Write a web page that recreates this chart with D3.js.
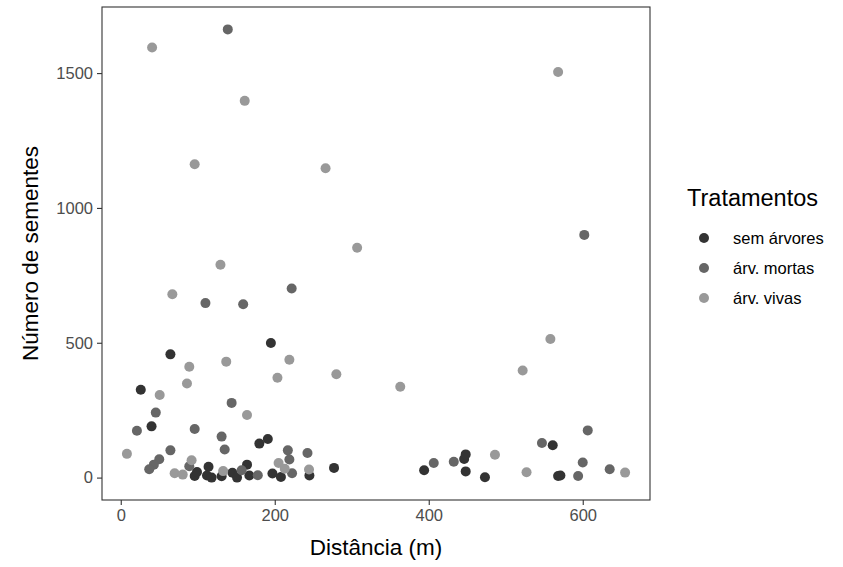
<!DOCTYPE html>
<html>
<head>
<meta charset="utf-8">
<script src="https://cdn.jsdelivr.net/npm/d3@7"></script>
<style>
  body { margin: 0; background: #fff; }
  text { font-family: "Liberation Sans", Arial, sans-serif; }
</style>
</head>
<body>
<svg id="chart" width="843" height="567"></svg>
<script>
// treatments and colours (grey scale)
var tratamentos = ["sem árvores", "árv. mortas", "árv. vivas"];
var cores = ["#333333", "#666666", "#999999"];

// [distância (m), número de sementes] per treatment
var semArvores = [
  [26, 326], [40, 190], [64.5, 457], [195, 499], [180, 126], [191, 143],
  [96, 6], [99, 21], [114, 40], [112, 8], [118, 0], [131, 5], [145, 18],
  [151, 0], [164, 48], [167, 8], [197, 15], [208, 2], [245, 8], [277, 36],
  [394, 27], [446, 69], [448, 86], [448, 23], [473, 1], [561, 120],
  [568, 6], [571, 8]
];
var arvMortas = [
  [139, 1662], [222, 701], [110, 647], [159, 643], [144, 277], [45.5, 241],
  [21, 174], [96, 180], [131, 152], [135, 104], [64.5, 101], [50, 68],
  [43, 48], [37, 31], [89, 42], [157, 27], [178, 9], [217, 101], [219, 67],
  [242.5, 91], [222.5, 16], [406.5, 54], [432.5, 59], [547, 128],
  [606.5, 175], [602, 900], [600, 56], [594, 6], [635, 31]
];
var arvVivas = [
  [40.7, 1595], [161, 1397], [96, 1162], [266, 1147], [307, 852],
  [129.5, 789], [67, 680], [89, 411], [137, 430], [219, 437], [203.5, 370],
  [280, 383], [363, 337], [50.6, 306], [86, 349], [164, 232], [8, 88],
  [70, 16], [80.5, 11], [92, 64], [133, 24], [205, 54], [213, 33],
  [244.5, 30], [486, 85], [527, 20], [568, 1504], [558, 514], [522, 397],
  [655, 18.5]
];
var xTicks = [0, 200, 400, 600];
var yTicks = [0, 500, 1000, 1500];

var series = [semArvores, arvMortas, arvVivas];

var margin = {top: 7, right: 193, bottom: 67, left: 102},
    width = 843 - margin.left - margin.right,
    height = 567 - margin.top - margin.bottom;

var svg = d3.select("#chart")
  .append("g")
  .attr("transform", "translate(" + margin.left + "," + margin.top + ")");

// ggplot style 5% expansion
var all = [].concat(semArvores, arvMortas, arvVivas);
var xExt = d3.extent(all, function(d) { return d[0]; });
var yExt = d3.extent(all, function(d) { return d[1]; });
var xPad = (xExt[1] - xExt[0]) * 0.05, yPad = (yExt[1] - yExt[0]) * 0.05;

var x = d3.scaleLinear()
  .domain([xExt[0] - xPad, xExt[1] + xPad])
  .range([0, width]);
var y = d3.scaleLinear()
  .domain([yExt[0] - yPad, yExt[1] + yPad])
  .range([height, 0]);

// points
series.forEach(function(s, i) {
  svg.selectAll(".pt" + i)
    .data(s)
    .enter()
    .append("circle")
    .attr("class", "pt" + i)
    .attr("cx", function(d) { return x(d[0]); })
    .attr("cy", function(d) { return y(d[1]); })
    .attr("r", 5)
    .attr("fill", cores[i]);
});

// panel border
svg.append("rect")
  .attr("width", width)
  .attr("height", height)
  .attr("fill", "none")
  .attr("stroke", "#333333")
  .attr("stroke-width", 1.1);

// axes
var xAxis = svg.append("g")
  .attr("transform", "translate(0," + height + ")")
  .call(d3.axisBottom(x).tickValues(xTicks).tickFormat(d3.format("d")).tickSize(5).tickPadding(4));
var yAxis = svg.append("g")
  .call(d3.axisLeft(y).tickValues(yTicks).tickFormat(d3.format("d")).tickSize(5).tickPadding(4));

[xAxis, yAxis].forEach(function(a) {
  a.select(".domain").remove();
  a.selectAll(".tick line").attr("stroke", "#333333").attr("stroke-width", 1.1);
  a.selectAll(".tick text")
    .attr("fill", "#4d4d4d")
    .attr("font-size", "16.5px")
    .attr("font-family", "Liberation Sans, Arial, sans-serif");
});

// axis titles
svg.append("text")
  .attr("x", width / 2)
  .attr("y", height + 55)
  .attr("text-anchor", "middle")
  .attr("font-size", "22.5px")
  .attr("fill", "#000")
  .text("Distância (m)");

svg.append("text")
  .attr("transform", "rotate(-90)")
  .attr("x", -height / 2)
  .attr("y", -(margin.left - 38))
  .attr("text-anchor", "middle")
  .attr("font-size", "22.5px")
  .attr("fill", "#000")
  .text("Número de sementes");

// legend
var legend = d3.select("#chart").append("g")
  .attr("transform", "translate(687,0)");
legend.append("text")
  .attr("x", 0)
  .attr("y", 206)
  .attr("font-size", "23.5px")
  .attr("fill", "#000")
  .text("Tratamentos");
tratamentos.forEach(function(t, i) {
  legend.append("circle")
    .attr("cx", 17)
    .attr("cy", 238 + i * 30)
    .attr("r", 5)
    .attr("fill", cores[i]);
  legend.append("text")
    .attr("x", 46)
    .attr("y", 238 + i * 30)
    .attr("dy", "0.35em")
    .attr("font-size", "16.5px")
    .attr("fill", "#000")
    .text(t);
});
</script>
</body>
</html>
